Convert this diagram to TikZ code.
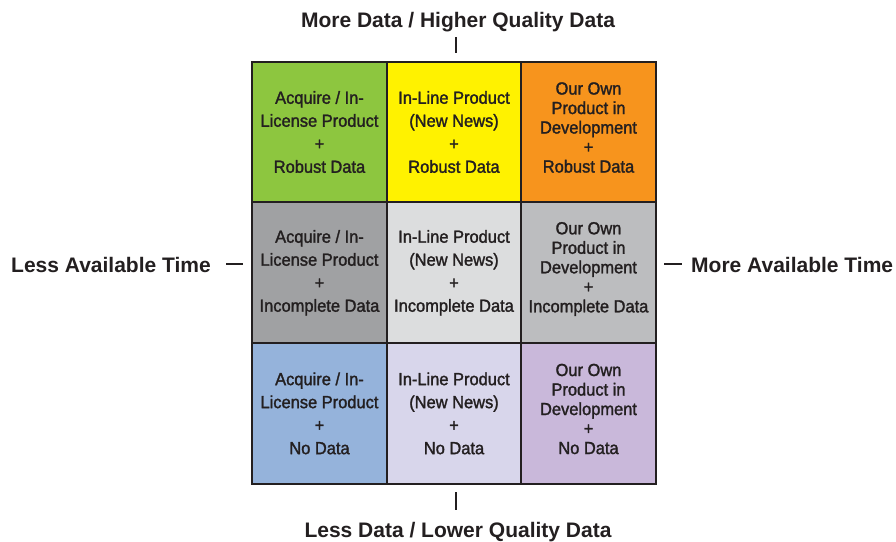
\documentclass[tikz,border=0pt]{standalone}
\usepackage{fontspec}
\setmainfont{Liberation Sans}
\newfontfamily\cellfont[FakeStretch=0.94,FakeBold=1.6]{Liberation Sans}
\definecolor{ink}{HTML}{231F20}
\definecolor{cgreen}{HTML}{8DC63F}
\definecolor{cyellow}{HTML}{FFF200}
\definecolor{corange}{HTML}{F7941D}
\definecolor{cdgray}{HTML}{A0A1A3}
\definecolor{clgray}{HTML}{DCDDDE}
\definecolor{cmgray}{HTML}{BCBDBF}
\definecolor{cblue}{HTML}{95B3DB}
\definecolor{clav}{HTML}{D8D6EB}
\definecolor{cpurp}{HTML}{C9B8DA}
\tikzset{
  cellbox/.style={draw=ink, line width=2pt, rectangle, inner sep=0pt, outer sep=0pt,
    minimum width=134.7pt, minimum height=140.7pt, align=center, text=ink,
    font=\cellfont\fontsize{17.5}{23}\selectfont},
  fourline/.style={font=\cellfont\fontsize{17.5}{19.5}\selectfont},
  axislabel/.style={text=ink, inner sep=0pt, font=\bfseries\fontsize{21}{24}\selectfont},
  tick/.style={draw=ink, line width=1.4pt}
}
\begin{document}
\begin{tikzpicture}[x=1pt,y=-1pt]
\useasboundingbox (0,0) rectangle (896,541);
% row 1
\node[cellbox, fill=cgreen] (a1) at (319.5,132) {Acquire / In-\\License Product\\+\\Robust Data};
\node[cellbox, fill=cyellow] (b1) at (454,132) {In-Line Product\\(New News)\\+\\Robust Data};
\node[cellbox, fill=corange] (c1) at (588.5,132) {};
\node[fourline, text=ink, align=center, inner sep=0pt] (c1t) at (588.5,127.5) {Our Own\\Product in\\Development\\+\\Robust Data};
% row 2
\node[cellbox, fill=cdgray] (a2) at (319.5,272.7) {Acquire / In-\\License Product\\+\\Incomplete Data};
\node[cellbox, fill=clgray] (b2) at (454,272.7) {In-Line Product\\(New News)\\+\\Incomplete Data};
\node[cellbox, fill=cmgray] (c2) at (588.5,272.7) {};
\node[fourline, text=ink, align=center, inner sep=0pt] (c2t) at (588.5,269) {Our Own\\Product in\\Development\\+\\Incomplete Data};
% row 3
\node[cellbox, fill=cblue] (a3) at (319.5,413.4) {Acquire / In-\\License Product\\+\\No Data};
\node[cellbox, fill=clav] (b3) at (454,413.4) {In-Line Product\\(New News)\\+\\No Data};
\node[cellbox, fill=cpurp] (c3) at (588.5,413.4) {};
\node[fourline, text=ink, align=center, inner sep=0pt] (c3t) at (588.5,409) {Our Own\\Product in\\Development\\+\\No Data};
% axis labels
\node[axislabel] (top) at (458,22) {More Data / Higher Quality Data};
\node[axislabel] (bottom) at (458,532) {Less Data / Lower Quality Data};
\node[axislabel, anchor=east] (left) at (211,265) {Less Available Time};
\node[axislabel, anchor=west] (right) at (691,265) {More Available Time};
% ticks
\coordinate (t1) at (456,37); \coordinate (t2) at (456,53);
\coordinate (b1t) at (456,492); \coordinate (b2t) at (456,510);
\coordinate (l1) at (226,264); \coordinate (l2) at (243,264);
\coordinate (r1) at (664,264); \coordinate (r2) at (682,264);
\draw[tick] (t1) -- (t2);
\draw[tick] (b1t) -- (b2t);
\draw[tick] (l1) -- (l2);
\draw[tick] (r1) -- (r2);
\end{tikzpicture}
\end{document}
